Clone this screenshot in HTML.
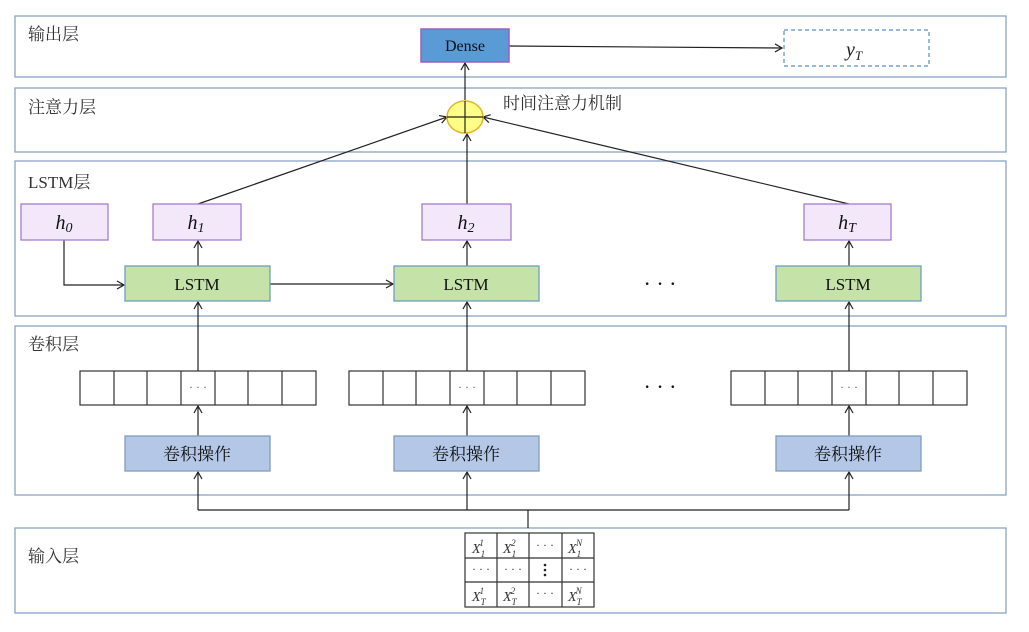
<!DOCTYPE html>
<html><head><meta charset="utf-8"><style>
html,body{margin:0;padding:0;background:#fff;}
svg text{font-family:"Liberation Serif","Noto Serif CJK SC",serif;}
.cn{font-family:"Liberation Sans","Noto Sans CJK SC",sans-serif;}
</style></head><body>
<svg width="1029" height="627" viewBox="0 0 1029 627" xmlns="http://www.w3.org/2000/svg">
<defs>
<marker id="a" markerWidth="10" markerHeight="10" refX="8" refY="5" orient="auto" markerUnits="userSpaceOnUse">
<path d="M1,1 L8,5 L1,9" fill="none" stroke="#222" stroke-width="1.2"/></marker>
</defs>
<g fill="#fff" stroke="#8aa4c4" stroke-width="1.3">
<rect x="15" y="16" width="991" height="61"/>
<rect x="15" y="88" width="991" height="64"/>
<rect x="15" y="161" width="991" height="155"/>
<rect x="15" y="326" width="991" height="169"/>
<rect x="15" y="528" width="991" height="85"/>
</g>
<g class="cn" font-size="17" fill="#333">
<text x="28" y="40">输出层</text>
<text x="28" y="113">注意力层</text>
<text x="28" y="188" font-family="Liberation Serif,Noto Sans CJK SC,serif">LSTM层</text>
<text x="28" y="350">卷积层</text>
<text x="28" y="562">输入层</text>
<text x="503" y="109">时间注意力机制</text>
</g>
<g stroke="#222" stroke-width="1.2" fill="none">
<line x1="509" y1="46" x2="782" y2="48" marker-end="url(#a)"/>
<line x1="465" y1="100" x2="465" y2="63" marker-end="url(#a)"/>
<line x1="198" y1="204" x2="447" y2="117" marker-end="url(#a)"/>
<line x1="467" y1="204" x2="467" y2="134" marker-end="url(#a)"/>
<line x1="849" y1="204" x2="483" y2="117" marker-end="url(#a)"/>
<polyline points="64,240 64,285 124,285" marker-end="url(#a)"/>
<line x1="270" y1="284" x2="393" y2="284" marker-end="url(#a)"/>
<line x1="198" y1="266" x2="198" y2="241" marker-end="url(#a)"/>
<line x1="467" y1="266" x2="467" y2="241" marker-end="url(#a)"/>
<line x1="849" y1="266" x2="849" y2="241" marker-end="url(#a)"/>
<line x1="198" y1="371" x2="198" y2="302" marker-end="url(#a)"/>
<line x1="467" y1="371" x2="467" y2="302" marker-end="url(#a)"/>
<line x1="849" y1="371" x2="849" y2="302" marker-end="url(#a)"/>
<line x1="198" y1="436" x2="198" y2="406" marker-end="url(#a)"/>
<line x1="467" y1="436" x2="467" y2="406" marker-end="url(#a)"/>
<line x1="849" y1="436" x2="849" y2="406" marker-end="url(#a)"/>
<line x1="528" y1="528" x2="528" y2="510"/>
<line x1="198" y1="510" x2="849" y2="510"/>
<line x1="198" y1="510" x2="198" y2="472" marker-end="url(#a)"/>
<line x1="467" y1="510" x2="467" y2="472" marker-end="url(#a)"/>
<line x1="849" y1="510" x2="849" y2="472" marker-end="url(#a)"/>
</g>
<rect x="421" y="29" width="88" height="33" fill="#5b9bd5" stroke="#9b5fc0" stroke-width="1.5"/>
<text x="465" y="51" font-size="16" text-anchor="middle" fill="#111">Dense</text>
<rect x="784" y="30" width="145" height="36" fill="#fff" stroke="#5b8fc4" stroke-width="1.2" stroke-dasharray="4,3"/>
<text x="846" y="56" font-size="20" font-style="italic" fill="#222">y<tspan font-size="13" dy="4">T</tspan></text>
<ellipse cx="465" cy="117" rx="18" ry="16" fill="#ffff88" stroke="#e6b422" stroke-width="1.5"/>
<line x1="447" y1="117" x2="483" y2="117" stroke="#222" stroke-width="1.2"/>
<line x1="465" y1="101" x2="465" y2="133" stroke="#222" stroke-width="1.2"/>
<g fill="#f2e8fa" stroke="#a57ccf" stroke-width="1.3">
<rect x="21" y="204" width="87" height="36"/>
<rect x="153" y="204" width="88" height="36"/>
<rect x="422" y="204" width="89" height="36"/>
<rect x="804" y="204" width="87" height="36"/>
</g>
<g font-size="20" font-style="italic" fill="#111" text-anchor="middle">
<text x="64" y="229">h<tspan font-size="14" dy="3">0</tspan></text>
<text x="196" y="229">h<tspan font-size="14" dy="3">1</tspan></text>
<text x="466" y="229">h<tspan font-size="14" dy="3">2</tspan></text>
<text x="847" y="229">h<tspan font-size="14" dy="3">T</tspan></text>
</g>
<g fill="#c5e3a8" stroke="#6f9fc4" stroke-width="1.3">
<rect x="125" y="266" width="145" height="35"/>
<rect x="394" y="266" width="145" height="35"/>
<rect x="776" y="266" width="145" height="35"/>
</g>
<g font-size="17" fill="#111" text-anchor="middle">
<text x="197" y="290">LSTM</text><text x="466" y="290">LSTM</text><text x="848" y="290">LSTM</text>
</g>
<text x="660" y="291" font-size="22" text-anchor="middle" fill="#111">· · ·</text>
<text x="660" y="394" font-size="22" text-anchor="middle" fill="#111">· · ·</text>
<g fill="#fff" stroke="#333" stroke-width="1.2">
<rect x="80" y="371" width="236" height="34"/>
<rect x="349" y="371" width="236" height="34"/>
<rect x="731" y="371" width="236" height="34"/>
</g>
<g stroke="#333" stroke-width="1.2">
<path d="M114 371v34M147 371v34M181 371v34M215 371v34M248 371v34M282 371v34"/>
<path d="M383 371v34M416 371v34M450 371v34M484 371v34M517 371v34M551 371v34"/>
<path d="M765 371v34M798 371v34M832 371v34M866 371v34M899 371v34M933 371v34"/>
</g>
<g font-size="12" fill="#555" text-anchor="middle">
<text x="198" y="391">· · ·</text><text x="467" y="391">· · ·</text><text x="849" y="391">· · ·</text>
</g>
<g fill="#b4c7e7" stroke="#7f9dbd" stroke-width="1.3">
<rect x="125" y="436" width="145" height="35"/>
<rect x="394" y="436" width="145" height="35"/>
<rect x="776" y="436" width="145" height="35"/>
</g>
<g class="cn" font-size="17" fill="#111" text-anchor="middle">
<text x="197" y="460">卷积操作</text><text x="466" y="460">卷积操作</text><text x="848" y="460">卷积操作</text>
</g>
<g fill="none" stroke="#333" stroke-width="1.2">
<rect x="465" y="533" width="129" height="74"/>
<path d="M497 533v74M529 533v74M562 533v74M465 558h129M465 582h129"/>
</g>
<g font-size="14" font-style="italic" fill="#333">
<text x="472" y="553">X<tspan font-size="9" dy="4">1</tspan><tspan font-size="9" dx="-5" dy="-11">1</tspan></text>
<text x="503" y="553">X<tspan font-size="9" dy="4">1</tspan><tspan font-size="9" dx="-5" dy="-11">2</tspan></text>
<text x="568" y="553">X<tspan font-size="9" dy="4">1</tspan><tspan font-size="9" dx="-5" dy="-11">N</tspan></text>
<text x="472" y="601">X<tspan font-size="9" dy="4">T</tspan><tspan font-size="9" dx="-6" dy="-11">1</tspan></text>
<text x="503" y="601">X<tspan font-size="9" dy="4">T</tspan><tspan font-size="9" dx="-6" dy="-11">2</tspan></text>
<text x="568" y="601">X<tspan font-size="9" dy="4">T</tspan><tspan font-size="9" dx="-6" dy="-11">N</tspan></text>
</g>
<g font-size="12" fill="#333" text-anchor="middle">
<text x="545" y="549">· · ·</text><text x="545" y="597">· · ·</text>
<text x="481" y="573">· · ·</text><text x="513" y="573">· · ·</text><text x="578" y="573">· · ·</text>
</g>
<g fill="#222"><circle cx="545" cy="565" r="1.3"/><circle cx="545" cy="570" r="1.3"/><circle cx="545" cy="575" r="1.3"/></g>
</svg>
</body></html>
